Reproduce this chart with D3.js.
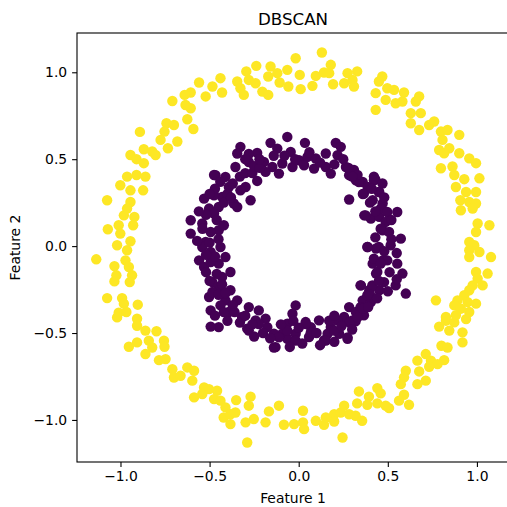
<!DOCTYPE html>
<html><head><meta charset="utf-8">
<script src="https://cdn.jsdelivr.net/npm/d3@7"></script>
<style>body{margin:0;background:#fff} svg{display:block}</style>
</head><body><svg id="c" width="507" height="507"></svg>
<script>
const title = "DBSCAN";
const xLabel = "Feature 1";
const yLabel = "Feature 2";
const xTicks = [-1.0, -0.5, 0.0, 0.5, 1.0];
const yTicks = [-1.0, -0.5, 0.0, 0.5, 1.0];
const clusterLabels = [0, 1];
const clusterColors = ["#440154", "#fde725"];

// cluster 1 (outer ring, yellow)
const outerRing = [
[-0.559,0.941],[-0.484,0.918],[-0.522,0.861],[-0.606,0.884],[-0.640,0.870],[-0.709,0.835],[-0.635,0.812],[-0.606,0.793],[-0.625,0.730],[-0.591,0.674],[-0.742,0.707],[-0.700,0.697],[-0.753,0.659],[-0.775,0.611],[-0.681,0.602],[-0.734,0.563],[-0.891,0.657],[-0.869,0.557],[-0.822,0.544],[-0.803,0.524],[-0.944,0.524],[-0.910,0.500],[-0.869,0.477],[-0.963,0.400],[-0.910,0.409],[-0.860,0.400],
[-0.439,0.966],[-0.430,0.884],[-0.345,0.947],[-0.327,0.908],[-0.308,0.870],[-0.294,1.005],[-0.280,0.956],[-0.238,1.037],[-0.242,0.937],[-0.204,0.889],[-0.171,0.870],[-0.158,1.033],[-0.171,0.976],[-0.120,0.995],[-0.107,0.941],[-0.064,1.014],[-0.058,0.918],[-0.017,1.081],[0.006,0.985],[0.011,0.903],[0.077,0.922],[0.096,0.979],[0.130,1.114],[0.142,0.999],[0.180,1.043],[0.171,0.995],[0.193,0.931],[0.255,0.937],[0.274,0.995],[0.302,0.956],
[0.328,1.005],[0.310,0.918],[0.469,0.976],[0.450,0.947],[0.497,0.908],[0.535,0.899],[0.432,0.880],[0.488,0.841],[0.544,0.822],[0.582,0.832],[0.591,0.884],[0.676,0.861],[0.657,0.832],[0.432,0.784],[0.629,0.765],[0.685,0.765],[0.629,0.707],[0.676,0.668],[0.732,0.697],[0.760,0.717],[0.798,0.659],[0.835,0.668],[0.901,0.640],[0.807,0.611],[0.788,0.553],[0.845,0.563],[0.816,0.534],[0.901,0.534],[0.957,0.505],[0.995,0.477],[0.863,0.458],[0.798,0.448],[0.873,0.409],[1.014,0.390],
[-1.001,0.350],[-0.944,0.321],[-0.873,0.321],[-1.075,0.264],[-0.944,0.254],[-0.963,0.216],[-0.981,0.177],[-0.922,0.168],[-0.929,0.120],[-1.010,0.120],[-1.071,0.097],[-1.001,0.072],[-0.944,0.028],[-1.019,0.005],[-0.963,-0.024],[-1.136,-0.076],[-0.972,-0.082],[-1.034,-0.115],[-0.953,-0.120],[-1.023,-0.168],[-0.935,-0.168],[-0.948,-0.207],[-1.034,-0.203],[-1.075,-0.299],[-0.991,-0.299],[-0.981,-0.331],[-0.903,-0.337],[-1.010,-0.383],[-0.967,-0.379],[-0.907,-0.418],
[-1.019,-0.410],[-0.907,-0.458],[-0.860,-0.486],[-0.798,-0.490],[-0.907,-0.554],[-0.953,-0.579],[-0.841,-0.544],[-0.822,-0.583],[-0.756,-0.544],[-0.753,-0.579],[-0.860,-0.621],[-0.784,-0.656],[-0.747,-0.650],[-0.709,-0.708],[-0.700,-0.756],[-0.625,-0.698],[-0.587,-0.717],[-0.663,-0.746],[-0.597,-0.774],[-0.531,-0.813],[-0.503,-0.823],[-0.587,-0.870],[-0.541,-0.851],[-0.475,-0.880],
[-0.458,-0.832],[-0.439,-0.889],[-0.411,-0.928],[-0.421,-0.986],[-0.383,-0.967],[-0.351,-0.886],[-0.355,-0.957],[-0.383,-1.024],[-0.270,-0.866],[-0.280,-0.918],[-0.298,-1.014],[-0.252,-0.995],[-0.289,-1.130],[-0.186,-1.014],[-0.167,-0.951],[-0.111,-0.918],[-0.083,-1.028],[-0.026,-1.024],[0.024,-0.947],[0.024,-1.014],[0.030,-1.053],[0.096,-1.005],[0.142,-1.028],[0.152,-0.986],[0.199,-0.967],[0.199,-1.009],[0.236,-0.957],[0.255,-0.918],[0.283,-0.967],[0.246,-1.101],
[0.788,-0.463],[0.826,-0.429],[0.873,-0.439],[0.939,-0.420],[0.845,-0.486],[0.919,-0.496],[0.919,-0.554],[0.801,-0.573],[0.835,-0.583],[0.713,-0.621],[0.666,-0.659],[0.742,-0.659],[0.816,-0.656],[0.779,-0.679],[0.732,-0.694],[0.601,-0.717],[0.676,-0.721],[0.591,-0.755],[0.713,-0.774],[0.573,-0.794],[0.666,-0.794],[0.441,-0.817],[0.460,-0.847],[0.591,-0.855],[0.563,-0.889],[0.338,-0.836],[0.394,-0.866],[0.328,-0.905],[0.385,-0.913],[0.441,-0.905],[0.488,-0.918],[0.507,-0.932],[0.619,-0.913],[0.319,-0.976],[0.356,-1.005],
[0.882,0.340],[0.929,0.385],[0.939,0.311],[0.995,0.311],[0.907,0.264],[0.957,0.254],[0.995,0.245],[0.910,0.206],[0.976,0.216],[1.004,0.130],[1.070,0.120],[0.995,0.081],[0.957,0.024],[0.985,0.005],[0.957,-0.024],[1.014,-0.034],[0.957,-0.063],[1.079,-0.063],[0.995,-0.149],[1.060,-0.158],[1.004,-0.187],[0.976,-0.226],[1.032,-0.226],[0.957,-0.254],[0.929,-0.283],[0.770,-0.312],[0.891,-0.312],[0.948,-0.322],[0.995,-0.331],[0.873,-0.341],[0.910,-0.360],[0.957,-0.379],[0.882,-0.398],[0.826,-0.408]
];

// cluster 0 (inner ring, purple)
const innerRing = [
[-0.064,0.628],[0.035,0.594],[0.208,0.594],[0.236,0.571],[-0.158,0.594],[-0.327,0.571],[-0.345,0.533],[-0.233,0.536],[-0.120,0.561],[-0.045,0.542],[0.002,0.494],[0.049,0.513],[0.096,0.504],[0.152,0.533],[0.218,0.523],[-0.355,0.455],[-0.280,0.484],[-0.195,0.484],[-0.148,0.455],[-0.092,0.475],[-0.035,0.455],[0.030,0.465],[0.086,0.446],[0.152,0.455],[0.180,0.417],[-0.186,0.427],[-0.111,0.417],[-0.233,0.375],[-0.298,0.340],[-0.270,0.264],[-0.411,0.398],[-0.467,0.408],[-0.392,0.340],[-0.327,0.321],[-0.430,0.283],[-0.364,0.245],[-0.345,0.225],
[0.265,0.455],[0.283,0.408],[0.321,0.379],[0.359,0.369],[0.430,0.383],[0.387,0.340],[0.452,0.311],[0.283,0.268],[0.415,0.264],[0.471,0.245],[0.368,0.177],[0.405,0.158],[0.452,0.168],[0.471,0.091],[0.387,-0.005],[0.434,-0.014],[0.415,-0.101],[0.471,-0.082],[0.434,-0.158],[0.349,-0.226],[0.396,-0.254],[0.452,-0.254],[0.359,-0.312],[0.405,-0.322],
[0.283,-0.351],[0.321,-0.379],[0.255,-0.408],[0.302,-0.427],[0.218,-0.427],[0.180,-0.466],[0.114,-0.427],[0.162,-0.504],[0.227,-0.504],[0.274,-0.533],[0.142,-0.542],[0.068,-0.466],[0.039,-0.437],[0.058,-0.523],[-0.017,-0.341],[-0.035,-0.389],[-0.064,-0.446],[-0.017,-0.504],[-0.092,-0.504],[-0.064,-0.533],[-0.139,-0.504],[-0.130,-0.581],[-0.176,-0.466],[-0.186,-0.417],[-0.242,-0.427],[-0.289,-0.475],[-0.224,-0.370],[-0.280,-0.351],[-0.317,-0.408],[-0.345,-0.312],[-0.383,-0.254],[-0.411,-0.312],[-0.392,-0.379],[-0.439,-0.341],[-0.383,-0.149],[-0.430,-0.178],[-0.449,-0.235],[-0.449,-0.466],
[-0.449,0.225],[-0.449,0.091],[-0.439,-0.005],[-0.411,-0.063],[-0.449,-0.101],
[-0.606,0.149],[-0.606,0.072],[-0.531,0.273],[-0.503,0.216],[-0.475,0.292],[-0.541,0.130],[-0.494,0.081],[-0.522,0.024],[-0.541,-0.005],[-0.494,-0.034],[-0.559,-0.082],[-0.531,-0.120],[-0.494,-0.092],[-0.484,-0.207],[-0.503,-0.293],[-0.484,-0.264],[-0.494,-0.370],[-0.475,0.187],[-0.494,-0.463],[-0.475,0.409],
[0.310,0.438],[0.422,0.400],
[0.338,0.369],[0.422,0.379],[0.366,0.302],[0.450,0.311],[0.460,0.216],[0.497,0.196],[0.553,0.196],[0.376,0.177],[0.488,0.139],[0.507,0.081],[0.573,0.043],[0.385,-0.005],[0.450,-0.005],[0.516,0.005],[0.422,-0.072],[0.497,-0.082],[0.553,-0.101],[0.582,-0.158],[0.441,-0.149],[0.347,-0.226],[0.413,-0.226],[0.479,-0.207],[0.544,-0.226],[0.601,-0.273],[0.385,-0.283],[0.347,-0.351],[0.366,-0.398],
[0.319,-0.433],
[-0.317,-0.410],[-0.280,-0.486],[-0.224,-0.448],[-0.139,-0.583],[-0.111,-0.525],[-0.064,-0.486],[-0.017,-0.544],[0.039,-0.448],[0.068,-0.496],[0.152,-0.544],[0.199,-0.486],[0.274,-0.525],[0.171,-0.429],[0.283,-0.439],
[-0.44,0.37],[-0.40,0.30],[-0.37,0.36],[-0.33,0.40],[-0.30,0.42],[-0.26,0.42],[-0.42,0.25],[-0.47,0.33],[-0.38,0.28],[-0.25,0.46],[-0.22,0.45],
[-0.46,0.15],[-0.42,0.12],[-0.45,0.04],[-0.50,0.02],[-0.47,-0.06],[-0.52,-0.15],[-0.46,-0.16],[-0.43,-0.22],[-0.54,0.10],[-0.52,0.18],[-0.50,0.30],[-0.56,0.20],[-0.50,-0.20],[-0.45,-0.28],[-0.42,-0.38],[-0.47,-0.40],[-0.52,-0.05],[-0.57,0.03],
[-0.40,-0.43],[-0.36,-0.38],[-0.33,-0.44],[-0.30,-0.40],[-0.26,-0.45],[-0.37,-0.34],[-0.41,-0.27],[-0.20,-0.50],[-0.25,-0.52],[-0.16,-0.53],[-0.10,-0.45],[-0.05,-0.58],
[0.20,-0.40],[0.24,-0.46],[0.30,-0.48],[0.33,-0.41],[0.10,-0.50],[0.12,-0.57],[0.20,-0.55],[0.00,-0.47],[0.02,-0.56],[-0.03,-0.43],[0.36,-0.36],[0.40,-0.28],
[0.36,0.30],[0.40,0.25],[0.43,0.20],[0.48,0.28],[0.52,0.15],[0.46,0.10],[0.43,0.05],[0.52,0.04],[0.48,-0.03],[0.55,-0.04],[0.46,-0.10],[0.51,-0.15],[0.45,-0.20],[0.50,-0.26],[0.44,-0.30],[0.39,-0.35],[0.55,-0.19],[0.41,0.33],[0.47,0.36],[0.33,0.41],
[0.20,0.47],[0.25,0.50],[0.28,0.45],[0.30,0.40],[0.12,0.48],[0.06,0.54],[-0.02,0.50],[-0.08,0.52],[-0.14,0.52],[-0.22,0.50],[-0.28,0.53],[-0.30,0.50]
];

const W = 507, H = 507;
const plot = {left: 77, top: 33, right: 509, bottom: 462};
const FONT = "'DejaVu Sans', sans-serif";

const svg = d3.select("#c");
const x = d3.scaleLinear().domain([-1.244, 1.18]).range([plot.left, plot.right]);
const y = d3.scaleLinear().domain([-1.242, 1.226]).range([plot.bottom, plot.top]);
const color = d3.scaleOrdinal().domain(clusterLabels).range(clusterColors);

const points = [];
const n = Math.max(outerRing.length, innerRing.length);
for (let i = 0; i < n; i++) {
  if (i < innerRing.length) points.push({x: innerRing[i][0], y: innerRing[i][1], c: 0});
  if (i < outerRing.length) points.push({x: outerRing[i][0], y: outerRing[i][1], c: 1});
}

svg.append("defs").append("clipPath").attr("id", "clip")
  .append("rect").attr("x", plot.left).attr("y", plot.top)
  .attr("width", plot.right - plot.left).attr("height", plot.bottom - plot.top);

svg.append("g").attr("clip-path", "url(#clip)")
  .selectAll("circle").data(points).join("circle")
  .attr("cx", d => x(d.x)).attr("cy", d => y(d.y)).attr("r", 5.2)
  .attr("fill", d => color(d.c));

const fmt = d3.format(".1f");
const xAxis = svg.append("g").attr("transform", `translate(0,${plot.bottom})`)
  .call(d3.axisBottom(x).tickValues(xTicks).tickFormat(fmt).tickSize(4.9).tickPadding(4.6));
const yAxis = svg.append("g").attr("transform", `translate(${plot.left},0)`)
  .call(d3.axisLeft(y).tickValues(yTicks).tickFormat(fmt).tickSize(4.9).tickPadding(4.9));
[xAxis, yAxis].forEach(g => {
  g.select(".domain").remove();
  g.selectAll(".tick line").attr("stroke", "#000").attr("stroke-width", 1.1);
  g.selectAll(".tick text").attr("fill", "#000").style("font-family", FONT).style("font-size", "13.9px");
});

// spines
const sp = svg.append("g").attr("stroke", "#000").attr("stroke-width", 1.1).attr("fill", "none");
sp.append("rect").attr("x", plot.left).attr("y", plot.top)
  .attr("width", plot.right - plot.left).attr("height", plot.bottom - plot.top);

svg.append("text").attr("x", (plot.left + plot.right) / 2).attr("y", 24.5)
  .attr("text-anchor", "middle").style("font-family", FONT).style("font-size", "16.7px")
  .attr("fill", "#000").text(title);
svg.append("text").attr("x", (plot.left + plot.right) / 2).attr("y", 503)
  .attr("text-anchor", "middle").style("font-family", FONT).style("font-size", "13.9px")
  .attr("fill", "#000").text(xLabel);
svg.append("text").attr("transform", `translate(20,${(plot.top + plot.bottom) / 2}) rotate(-90)`)
  .attr("text-anchor", "middle").style("font-family", FONT).style("font-size", "13.9px")
  .attr("fill", "#000").text(yLabel);
</script></body></html>
